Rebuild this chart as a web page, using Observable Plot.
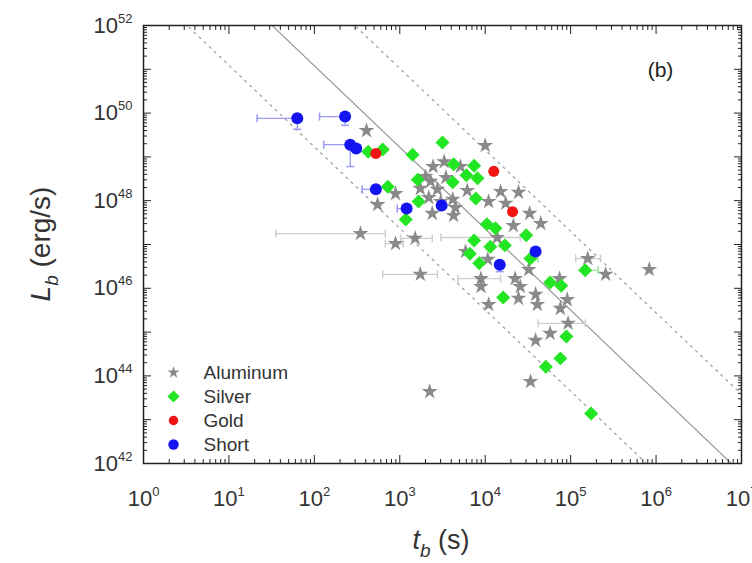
<!DOCTYPE html>
<html><head><meta charset="utf-8">
<script src="https://cdn.jsdelivr.net/npm/d3@7"></script>
<script src="https://cdn.jsdelivr.net/npm/@observablehq/plot@0.6"></script>
<style>
body{margin:0;background:#fff}
#chart svg{font-family:"Liberation Sans",Arial,Helvetica,sans-serif;color:#333;background:#fff}
</style>
</head><body><div id="chart"></div>
<script>
// ---- data (log10 values) ----
const aluminumLogT = [2.61,2.74,2.95,2.54,2.95,3.18,3.24,3.35,3.39,3.30,3.36,3.44,3.34,3.48,3.38,3.62,3.63,3.54,3.71,3.79,4.00,4.18,4.39,4.24,4.52,4.65,4.33,4.14,5.20,5.41,5.92,3.95,3.95,4.35,4.41,4.39,4.51,4.59,4.61,4.04,4.87,4.88,4.96,4.97,4.76,4.59,4.53,3.24,3.77,4.03,3.52,3.65,4.04];
const aluminumLogL = [49.60,47.91,48.16,47.25,47.02,47.14,46.32,43.64,48.78,48.55,48.44,48.26,48.07,47.98,47.71,48.03,47.66,48.53,48.78,48.23,49.26,48.21,48.19,47.94,47.71,47.48,47.43,47.16,46.68,46.32,46.43,46.22,46.04,46.22,46.04,45.77,46.43,45.86,45.63,45.63,46.22,45.54,45.74,45.20,44.97,44.81,43.87,48.28,46.84,46.66,48.89,47.84,47.98];
const aluminumErrLogL   = [47.25,47.02,47.14,46.32,47.16,46.68,46.22,45.20];
const aluminumErrLogTLo = [1.55,2.83,3.01,2.80,3.48,5.06,3.68,4.62];
const aluminumErrLogTHi = [2.83,3.04,3.38,3.44,4.41,5.35,4.18,5.17];

const silverLogT = [2.63,2.80,2.86,3.07,3.15,3.50,3.21,3.22,3.63,3.87,3.78,3.91,3.62,3.89,4.02,4.12,4.48,3.87,4.06,4.23,3.82,3.93,4.53,5.17,4.76,4.89,4.21,4.95,4.88,4.71,5.24];
const silverLogL = [49.12,49.17,48.32,47.57,49.05,49.33,48.48,47.98,48.83,48.80,48.58,48.51,48.42,48.05,47.46,47.37,47.21,47.09,46.95,46.98,46.79,46.57,46.68,46.41,46.13,46.06,45.79,44.90,44.40,44.21,43.14];
const silverErrLogL   = [46.41,46.68];
const silverErrLogTLo = [5.10,4.46];
const silverErrLogTHi = [5.32,4.62];

const goldLogT = [2.72,4.10,4.32];
const goldLogL = [49.08,48.67,47.75];

const shortLogT = [1.80,2.36,2.42,2.49,2.72,3.08,3.49,4.17,4.59];
const shortLogL = [49.88,49.92,49.28,49.19,48.26,47.82,47.89,46.54,46.84];
const shortErrXLogL   = [49.88,49.92,49.28,48.26,47.82];
const shortErrXLogTLo = [1.33,2.06,2.11,2.56,2.97];
const shortErrXLogTHi = [1.80,2.36,2.42,2.72,3.08];
const shortErrYLogT   = [1.80,2.36,2.42,4.17];
const shortErrYLogLLo = [49.63,49.72,48.78,46.38];
const shortErrYLogLHi = [49.88,49.92,49.28,46.54];

// fitted relation log L = a + b log t, and the two dotted bounds
const fitSlope = -1.86;
const fitIntercepts = [54.80, 56.60, 52.95];
const fitStyles = ["solid", "dotted", "dotted"];

const legendLabels = ["Aluminum","Silver","Gold","Short"];
const panelLabel = "(b)";
const xTickExps = [0,1,2,3,4,5,6,7];
const yTickExps = [42,43,44,45,46,47,48,49,50,51,52];
const yLabelExps = [42,44,46,48,50,52];

// ---- build tables ----
const p = v => 10 ** v;
const pts = (T, L) => T.map((t, i) => ({t: p(t), L: p(L[i])}));
const aluminum = pts(aluminumLogT, aluminumLogL);
const silver = pts(silverLogT, silverLogL);
const gold = pts(goldLogT, goldLogL);
const short = pts(shortLogT, shortLogL);
const hErr = (L, lo, hi) => L.map((l, i) => ({L: p(l), lo: p(lo[i]), hi: p(hi[i])}));
const vErr = (T, lo, hi) => T.map((t, i) => ({t: p(t), lo: p(lo[i]), hi: p(hi[i])}));
const alErr = hErr(aluminumErrLogL, aluminumErrLogTLo, aluminumErrLogTHi);
const agErr = hErr(silverErrLogL, silverErrLogTLo, silverErrLogTHi);
const shErrX = hErr(shortErrXLogL, shortErrXLogTLo, shortErrXLogTHi);
const shErrY = vErr(shortErrYLogT, shortErrYLogLLo, shortErrYLogLHi);
const fitLines = fitIntercepts.flatMap((a, k) => [0, 7].map(e => ({k, style: fitStyles[k], t: p(e), L: p(a + fitSlope * e)})));

const majorX = xTickExps.map(p);
const minorX = xTickExps.slice(0, -1).flatMap(e => [2,3,4,5,6,7,8,9].map(m => m * p(e)));
const majorY = yTickExps.map(p);
const minorY = yTickExps.slice(0, -1).flatMap(e => [2,3,4,5,6,7,8,9].map(m => m * p(e)));
const labelY = yLabelExps.map(p);
const fmt = d => `10^${Math.round(Math.log10(d))}`;
const blank = () => "";

const vbar = {draw(ctx) { ctx.moveTo(0, -4); ctx.lineTo(0, 4); }};
const hbar = {draw(ctx) { ctx.moveTo(-4, 0); ctx.lineTo(4, 0); }};

const colors = {Aluminum: "#8a8a8a", Silver: "#22e622", Gold: "#f01414", Short: "#1414f0"};
const symbols = {Aluminum: "star", Silver: "diamond2", Gold: "circle", Short: "circle"};
const radii = {Aluminum: 5, Silver: 6.3, Gold: 5.5, Short: 6};

const tickMarks = [];
for (const a of ["bottom", "top"]) {
  tickMarks.push(Plot.axisX({anchor: a, ticks: majorX, tickSize: -8, tickFormat: blank, label: null, stroke: "#222"}));
  tickMarks.push(Plot.axisX({anchor: a, ticks: minorX, tickSize: -4, tickFormat: blank, label: null, stroke: "#222"}));
}
for (const a of ["left", "right"]) {
  tickMarks.push(Plot.axisY({anchor: a, ticks: majorY, tickSize: -8, tickFormat: blank, label: null, stroke: "#222"}));
  tickMarks.push(Plot.axisY({anchor: a, ticks: minorY, tickSize: -4, tickFormat: blank, label: null, stroke: "#222"}));
}

const legendMarks = legendLabels.flatMap((name, i) => [
  Plot.dot([name], {frameAnchor: "bottom-left", dx: 30, dy: -91 + 24 * i, symbol: symbols[name], fill: colors[name], r: name === "Aluminum" ? 3.8 : radii[name] - 0.8}),
  Plot.text([name], {frameAnchor: "bottom-left", dx: 60, dy: -91 + 24 * i, text: d => d, textAnchor: "start", lineAnchor: "middle", fontSize: 19, fill: "#333"})
]);

const chart = Plot.plot({
  width: 752, height: 563,
  marginLeft: 143, marginRight: 11, marginTop: 25, marginBottom: 100,
  x: {type: "log", domain: [1, 1e7], axis: null},
  y: {type: "log", domain: [1e42, 1e52], axis: null},
  marks: [
    Plot.line(fitLines.filter(d => d.style === "solid"), {x: "t", y: "L", z: "k", stroke: "#999", strokeWidth: 1.2, clip: true}),
    Plot.line(fitLines.filter(d => d.style === "dotted"), {x: "t", y: "L", z: "k", stroke: "#999", strokeWidth: 1.2, strokeDasharray: "2,5", clip: true}),
    // error bars
    Plot.ruleY(alErr, {y: "L", x1: "lo", x2: "hi", stroke: "#cfcfcf", strokeWidth: 1.3}),
    Plot.dot(alErr, {x: "lo", y: "L", symbol: vbar, stroke: "#cfcfcf", fill: "none"}),
    Plot.dot(alErr, {x: "hi", y: "L", symbol: vbar, stroke: "#cfcfcf", fill: "none"}),
    Plot.ruleY(agErr, {y: "L", x1: "lo", x2: "hi", stroke: "#9be69b", strokeWidth: 1.3}),
    Plot.dot(agErr, {x: "hi", y: "L", symbol: vbar, stroke: "#9be69b", fill: "none"}),
    Plot.ruleY(shErrX, {y: "L", x1: "lo", x2: "hi", stroke: "#9a9af5", strokeWidth: 1.3}),
    Plot.dot(shErrX, {x: "lo", y: "L", symbol: vbar, stroke: "#9a9af5", fill: "none"}),
    Plot.ruleX(shErrY, {x: "t", y1: "lo", y2: "hi", stroke: "#9a9af5", strokeWidth: 1.3}),
    Plot.dot(shErrY, {x: "t", y: "lo", symbol: hbar, stroke: "#9a9af5", fill: "none"}),
    // points
    Plot.dot(aluminum, {x: "t", y: "L", symbol: "star", fill: colors.Aluminum, r: radii.Aluminum}),
    Plot.dot(silver, {x: "t", y: "L", symbol: "diamond2", fill: colors.Silver, r: radii.Silver}),
    Plot.dot(gold, {x: "t", y: "L", symbol: "circle", fill: colors.Gold, r: radii.Gold}),
    Plot.dot(short, {x: "t", y: "L", symbol: "circle", fill: colors.Short, r: radii.Short}),
    // frame + ticks
    Plot.frame({stroke: "#222", strokeWidth: 1.5}),
    ...tickMarks,
    Plot.axisX({anchor: "bottom", ticks: majorX, tickSize: 0, tickPadding: 27, tickFormat: fmt, label: null, fontSize: 22, fill: "#333"}),
    Plot.axisY({anchor: "left", ticks: labelY, tickSize: 0, tickPadding: 11, tickFormat: fmt, label: null, fontSize: 22, fill: "#333"}),
    ...legendMarks,
    Plot.text([panelLabel], {frameAnchor: "top-right", dx: -81, dy: 45, text: d => d, textAnchor: "middle", lineAnchor: "middle", fontSize: 21, fill: "#222"})
  ]
});

// superscripts on the tick labels
const NS = "http://www.w3.org/2000/svg";
for (const t of chart.querySelectorAll("text")) {
  const m = /^10\^(\d+)$/.exec(t.textContent);
  if (m) {
    t.textContent = "10";
    const s = document.createElementNS(NS, "tspan");
    s.setAttribute("font-size", "13");
    s.setAttribute("dy", "-10");
    s.textContent = m[1];
    t.appendChild(s);
  }
}

// axis titles
const svg = d3.select(chart);
const xt = svg.append("text").attr("x", 441).attr("y", 549).attr("text-anchor", "middle").attr("font-size", 27).attr("fill", "#333");
xt.append("tspan").attr("font-style", "italic").text("t");
xt.append("tspan").attr("font-style", "italic").attr("font-size", 19).attr("dy", 8).text("b");
xt.append("tspan").attr("dy", -8).text(" (s)");
const yt = svg.append("text").attr("transform", "translate(50,244) rotate(-90)").attr("text-anchor", "middle").attr("font-size", 28).attr("fill", "#333");
yt.append("tspan").attr("font-style", "italic").text("L");
yt.append("tspan").attr("font-style", "italic").attr("font-size", 19).attr("dy", 8).text("b");
yt.append("tspan").attr("dy", -8).text(" (erg/s)");

document.getElementById("chart").appendChild(chart);
</script>
</body></html>
